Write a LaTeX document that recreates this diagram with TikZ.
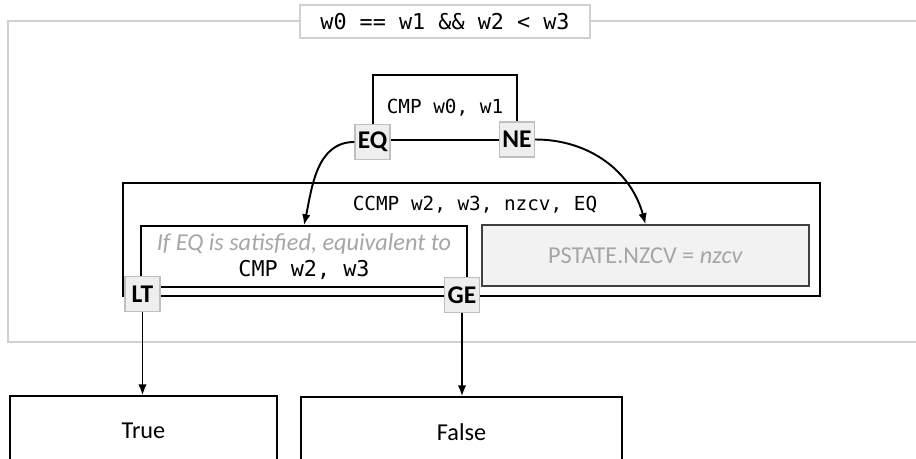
\documentclass[tikz,border=0pt]{standalone}
\usepackage{fontspec}
\setmainfont{Carlito}
\setmonofont{DejaVu Sans Mono}
\usetikzlibrary{positioning, arrows.meta, calc}

\definecolor{framegrey}{HTML}{D0D0D0}
\definecolor{taggrey}{HTML}{EEEEEE}
\definecolor{tagline}{HTML}{BFBFBF}
\definecolor{boxgrey}{HTML}{F2F2F2}
\definecolor{txtgrey}{HTML}{A6A6A6}

\begin{document}
\begin{tikzpicture}[
    x=0.02cm, y=-0.02cm,
    >={Latex[length=2.2mm, width=1.7mm]},
    arrow/.style={
        ->,
        line width=1.1pt
    },
    block/.style={
        rectangle,
        draw,
        line width=0.8pt,
        inner sep=0pt
    },
    tag/.style={
        rectangle,
        fill=taggrey,
        draw=tagline,
        line width=0.8pt,
        minimum size=0.7cm,
        inner sep=0pt,
        font=\fontsize{14.5}{16}\selectfont\bfseries
    },
    code/.style={
        font=\fontsize{11}{13}\selectfont\ttfamily
    },
    plain/.style={
        font=\fontsize{13.8}{16}\selectfont
    }
]
    \clip (0,0) rectangle (916,459);

    % Condition frame
    \draw[framegrey, line width=1pt] (8,21) rectangle (940,342);
    \node[rectangle, fill=white, draw=framegrey, line width=1pt,
          minimum width=5.8cm, minimum height=0.66cm,
          font=\fontsize{12.4}{14}\selectfont\ttfamily] (cond) at (445,21.5) {w0 == w1 \&\& w2 < w3};

    % Conditional compare
    \node[block, minimum width=13.94cm, minimum height=2.26cm] (ccmp) at (471.5,239.5) {};
    \node[code] (ccmptxt) at (475,205) {CCMP w2, w3, nzcv, EQ};

    \node[block, fill=white, minimum width=6.52cm, minimum height=1.22cm, align=center] (equiv) at (304,256.5)
        {{\fontsize{13.8}{16}\selectfont\itshape\color{txtgrey}If EQ is satisfied, equivalent to}\\[3pt]
         {\fontsize{12.4}{14}\selectfont\ttfamily CMP w2, w3}};
    \node[block, fill=boxgrey, draw=black!75, minimum width=6.54cm, minimum height=1.22cm,
          text=txtgrey, plain] (pstate) at (645.5,255.5) {PSTATE.NZCV = \textit{nzcv}};

    % First compare
    \node[block, fill=white, minimum width=2.88cm, minimum height=1.3cm, code] (cmp) at (445,107.5) {CMP w0, w1};

    % Flags
    \node[tag] (eq) at (372.5,142) {EQ};
    \node[tag] (ne) at (517,139.5) {NE};
    \node[tag] (lt) at (142.5,294) {LT};
    \node[tag] (ge) at (462,295) {GE};

    % Results
    \node[block, minimum width=5.34cm, minimum height=1.4cm, plain] (true) at (143.5,431) {True};
    \node[block, minimum width=6.42cm, minimum height=1.4cm, plain] (false) at (461.5,432) {False};

    % Connections
    \draw[arrow] (eq.west) to[out=180, in=78] (equiv.north);
    \draw[arrow] (ne.east) to[out=0, in=105] (pstate.north);
    \draw[arrow] (lt.south) -- (lt.south |- true.north);
    \draw[arrow] (ge.south) -- (ge.south |- false.north);

\end{tikzpicture}
\end{document}
